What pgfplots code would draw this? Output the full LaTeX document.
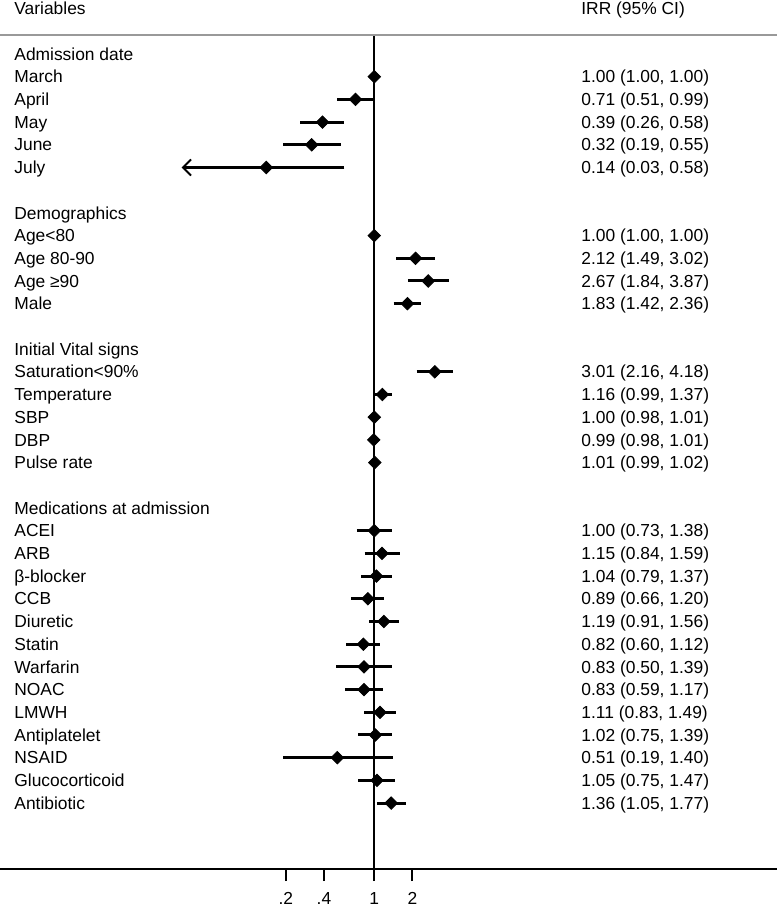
\documentclass[border=0pt]{standalone}
\usepackage{fontspec}
\setmainfont{Liberation Sans}
\usepackage{pgfplots}
\pgfplotsset{compat=1.18}
\usetikzlibrary{arrows.meta}
\newcommand{\lab}[3]{\node[anchor=base west,inner sep=0pt] at (#1pt,{(407.5-11.35*#2-3.1)*1pt}) {#3};}
\begin{document}
\fontsize{8.7pt}{10pt}\selectfont
\begin{tikzpicture}
\path[use as bounding box] (0,-18.5pt) rectangle (388.5pt,434.5pt);
\begin{axis}[
 at={(0,0)}, anchor=south west,
 scale only axis, width=388.5pt, height=417pt,
 xmode=log, xmin=0.0011, xmax=1526,
 ymin=-35.903, ymax=0.837,
 axis x line=bottom, hide y axis,
 x axis line style={-, line width=1pt},
 xtick={0.2,0.4,1,2}, xticklabels={.2,.4,1,2},
 xminorticks=false,
 xtick align=outside, major tick length=6pt,
 major tick style={black, line width=1pt},
 xticklabel style={font=\fontsize{8.7pt}{10pt}\selectfont, yshift=-2.5pt, /pgf/number format/assume math mode=true},
 clip=false,
 ci/.style={line width=1.5pt, black},
]
\addplot[line width=1pt, black] coordinates {(1,-35.903) (1,0.837)};
% confidence intervals
\addplot[ci] coordinates {(0.51,-2) (0.99,-2)};
\addplot[ci] coordinates {(0.26,-3) (0.58,-3)};
\addplot[ci] coordinates {(0.19,-4) (0.55,-4)};
\addplot[ci, -{Straight Barb[length=4pt,width=8pt,line width=1pt]}] coordinates {(0.58,-5) (0.03,-5)};
\addplot[ci] coordinates {(1.49,-9) (3.02,-9)};
\addplot[ci] coordinates {(1.84,-10) (3.87,-10)};
\addplot[ci] coordinates {(1.42,-11) (2.36,-11)};
\addplot[ci] coordinates {(2.16,-14) (4.18,-14)};
\addplot[ci] coordinates {(0.99,-15) (1.37,-15)};
\addplot[ci] coordinates {(0.98,-16) (1.01,-16)};
\addplot[ci] coordinates {(0.98,-17) (1.01,-17)};
\addplot[ci] coordinates {(0.99,-18) (1.02,-18)};
\addplot[ci] coordinates {(0.73,-21) (1.38,-21)};
\addplot[ci] coordinates {(0.84,-22) (1.59,-22)};
\addplot[ci] coordinates {(0.79,-23) (1.37,-23)};
\addplot[ci] coordinates {(0.66,-24) (1.20,-24)};
\addplot[ci] coordinates {(0.91,-25) (1.56,-25)};
\addplot[ci] coordinates {(0.60,-26) (1.12,-26)};
\addplot[ci] coordinates {(0.50,-27) (1.39,-27)};
\addplot[ci] coordinates {(0.59,-28) (1.17,-28)};
\addplot[ci] coordinates {(0.83,-29) (1.49,-29)};
\addplot[ci] coordinates {(0.75,-30) (1.39,-30)};
\addplot[ci] coordinates {(0.19,-31) (1.40,-31)};
\addplot[ci] coordinates {(0.75,-32) (1.47,-32)};
\addplot[ci] coordinates {(1.05,-33) (1.77,-33)};
% point estimates
\addplot[only marks, mark=square*, mark size=2.2pt, mark options={rotate=45, fill=black, draw=black}] table[row sep=\\] {
x y \\
1.00 -1 \\ 0.71 -2 \\ 0.39 -3 \\ 0.32 -4 \\ 0.14 -5 \\
1.00 -8 \\ 2.12 -9 \\ 2.67 -10 \\ 1.83 -11 \\
3.01 -14 \\ 1.16 -15 \\ 1.00 -16 \\ 0.99 -17 \\ 1.01 -18 \\
1.00 -21 \\ 1.15 -22 \\ 1.04 -23 \\ 0.89 -24 \\ 1.19 -25 \\ 0.82 -26 \\ 0.83 -27 \\
0.83 -28 \\ 1.11 -29 \\ 1.02 -30 \\ 0.51 -31 \\ 1.05 -32 \\ 1.36 -33 \\
};
\end{axis}
\draw[black!40, line width=1pt] (0,417pt) -- (388.5pt,417pt);
\node[anchor=base west,inner sep=0pt] at (7pt,427.4pt) {Variables};
\node[anchor=base west,inner sep=0pt] at (290.5pt,427.4pt) {IRR (95\% CI)};
\lab{7}{0}{Admission date}
\lab{7}{1}{March}
\lab{7}{2}{April}
\lab{7}{3}{May}
\lab{7}{4}{June}
\lab{7}{5}{July}
\lab{7}{7}{Demographics}
\lab{7}{8}{Age<80}
\lab{7}{9}{Age 80-90}
\lab{7}{10}{Age ≥90}
\lab{7}{11}{Male}
\lab{7}{13}{Initial Vital signs}
\lab{7}{14}{Saturation<90\%}
\lab{7}{15}{Temperature}
\lab{7}{16}{SBP}
\lab{7}{17}{DBP}
\lab{7}{18}{Pulse rate}
\lab{7}{20}{Medications at admission}
\lab{7}{21}{ACEI}
\lab{7}{22}{ARB}
\lab{7}{23}{β-blocker}
\lab{7}{24}{CCB}
\lab{7}{25}{Diuretic}
\lab{7}{26}{Statin}
\lab{7}{27}{Warfarin}
\lab{7}{28}{NOAC}
\lab{7}{29}{LMWH}
\lab{7}{30}{Antiplatelet}
\lab{7}{31}{NSAID}
\lab{7}{32}{Glucocorticoid}
\lab{7}{33}{Antibiotic}
\lab{290.5}{1}{1.00 (1.00, 1.00)}
\lab{290.5}{2}{0.71 (0.51, 0.99)}
\lab{290.5}{3}{0.39 (0.26, 0.58)}
\lab{290.5}{4}{0.32 (0.19, 0.55)}
\lab{290.5}{5}{0.14 (0.03, 0.58)}
\lab{290.5}{8}{1.00 (1.00, 1.00)}
\lab{290.5}{9}{2.12 (1.49, 3.02)}
\lab{290.5}{10}{2.67 (1.84, 3.87)}
\lab{290.5}{11}{1.83 (1.42, 2.36)}
\lab{290.5}{14}{3.01 (2.16, 4.18)}
\lab{290.5}{15}{1.16 (0.99, 1.37)}
\lab{290.5}{16}{1.00 (0.98, 1.01)}
\lab{290.5}{17}{0.99 (0.98, 1.01)}
\lab{290.5}{18}{1.01 (0.99, 1.02)}
\lab{290.5}{21}{1.00 (0.73, 1.38)}
\lab{290.5}{22}{1.15 (0.84, 1.59)}
\lab{290.5}{23}{1.04 (0.79, 1.37)}
\lab{290.5}{24}{0.89 (0.66, 1.20)}
\lab{290.5}{25}{1.19 (0.91, 1.56)}
\lab{290.5}{26}{0.82 (0.60, 1.12)}
\lab{290.5}{27}{0.83 (0.50, 1.39)}
\lab{290.5}{28}{0.83 (0.59, 1.17)}
\lab{290.5}{29}{1.11 (0.83, 1.49)}
\lab{290.5}{30}{1.02 (0.75, 1.39)}
\lab{290.5}{31}{0.51 (0.19, 1.40)}
\lab{290.5}{32}{1.05 (0.75, 1.47)}
\lab{290.5}{33}{1.36 (1.05, 1.77)}
\end{tikzpicture}
\end{document}
